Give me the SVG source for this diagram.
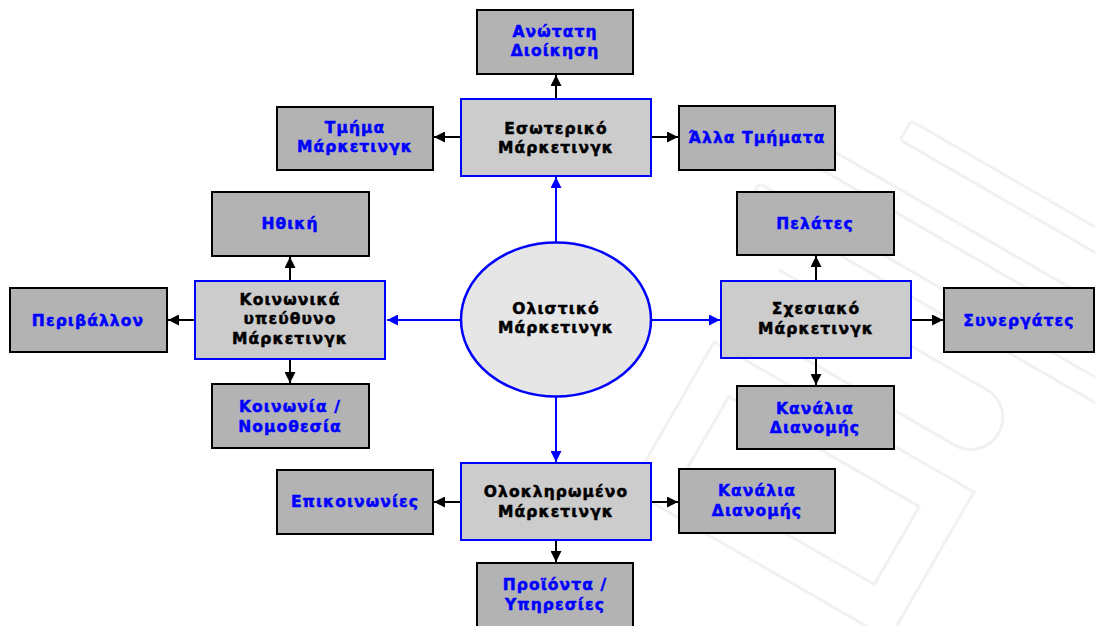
<svg xmlns="http://www.w3.org/2000/svg" width="1095" height="626" viewBox="0 0 1095 626">
  <defs>
    <style>
      .leaf { fill: #b3b3b3; stroke: #000; stroke-width: 2; }
      .hub { fill: #cccccc; stroke: #0000ff; stroke-width: 2; }
      .core { fill: #e6e6e6; stroke: #0000ff; stroke-width: 2.5; }
      text { font-family: "DejaVu Sans", Verdana, sans-serif; font-weight: bold; font-size: 15.5px; text-anchor: middle; letter-spacing: 1.1px; stroke-width: 0.5px; }
      .lt { fill: #0000ff; stroke: #0000ff; }
      .ht { fill: #000; stroke: #000; }
      .k { stroke: #000; stroke-width: 2; fill: none; marker-end: url(#ak); }
      .b { stroke: #0000ff; stroke-width: 2; fill: none; marker-end: url(#ab); }
      .wm { fill: none; stroke: #f1f1f1; stroke-width: 3; }
    </style>
    <marker id="ak" viewBox="0 0 10 10" refX="10" refY="5" markerWidth="5.5" markerHeight="5.5" orient="auto" markerUnits="strokeWidth">
      <path d="M0,0 L10,5 L0,10 z" fill="#000"/>
    </marker>
    <marker id="ab" viewBox="0 0 10 10" refX="10" refY="5" markerWidth="5.5" markerHeight="5.5" orient="auto" markerUnits="strokeWidth">
      <path d="M0,0 L10,5 L0,10 z" fill="#0000ff"/>
    </marker>
  </defs>

  <rect width="1095" height="626" fill="#fff"/>

  <!-- faint background logo -->
  <g id="watermark">
    <g transform="rotate(30 900 380)">
      <rect class="wm" x="780" y="150" width="300" height="22" rx="4"/>
      <rect class="wm" x="720" y="215" width="380" height="22" rx="4"/>
      <rect class="wm" x="680" y="280" width="420" height="22" rx="4"/>
      <path class="wm" d="M740 345 h240 a32 32 0 0 1 0 64 h-190"/>
      <path class="wm" d="M720 440 h300 v170 h-300 z"/>
      <path class="wm" d="M760 480 h220 v90 h-220 z"/>
    </g>
  </g>

  <g id="connectors">
    <!-- from the centre -->
    <line class="b" x1="556" y1="242" x2="556" y2="177"/>
    <line class="b" x1="556" y1="397" x2="556" y2="462"/>
    <line class="b" x1="461" y1="320" x2="387" y2="320"/>
    <line class="b" x1="651" y1="320" x2="720" y2="320"/>
    <!-- internal -->
    <line class="k" x1="556" y1="99" x2="556" y2="75"/>
    <line class="k" x1="461" y1="137" x2="434" y2="137"/>
    <line class="k" x1="651" y1="137" x2="678" y2="137"/>
    <!-- socially responsible -->
    <line class="k" x1="290" y1="281" x2="290" y2="257"/>
    <line class="k" x1="195" y1="320" x2="168" y2="320"/>
    <line class="k" x1="290" y1="359" x2="290" y2="383"/>
    <!-- relationship -->
    <line class="k" x1="816" y1="281" x2="816" y2="256"/>
    <line class="k" x1="911" y1="320" x2="943" y2="320"/>
    <line class="k" x1="816" y1="358" x2="816" y2="385"/>
    <!-- integrated -->
    <line class="k" x1="461" y1="502" x2="434" y2="502"/>
    <line class="k" x1="651" y1="502" x2="678" y2="502"/>
    <line class="k" x1="556" y1="540" x2="556" y2="562"/>
  </g>

  <g id="holistic">
    <ellipse class="core" cx="556" cy="319.5" rx="95" ry="77"/>
    <text class="ht" x="556" y="314">Ολιστικό</text>
    <text class="ht" x="556" y="333">Μάρκετινγκ</text>
  </g>

  <g id="internal">
    <rect class="hub" x="461" y="99" width="190" height="77"/>
    <text class="ht" x="556" y="134">Εσωτερικό</text>
    <text class="ht" x="556" y="153">Μάρκετινγκ</text>
  </g>
  <g id="top-management">
    <rect class="leaf" x="477" y="10" width="156" height="64"/>
    <text class="lt" x="555" y="37">Ανώτατη</text>
    <text class="lt" x="555" y="56">Διοίκηση</text>
  </g>
  <g id="marketing-dept">
    <rect class="leaf" x="277" y="107" width="156" height="63"/>
    <text class="lt" x="355" y="133">Τμήμα</text>
    <text class="lt" x="355" y="152">Μάρκετινγκ</text>
  </g>
  <g id="other-depts">
    <rect class="leaf" x="679" y="106" width="156" height="64"/>
    <text class="lt" x="757" y="143">Άλλα Τμήματα</text>
  </g>

  <g id="social">
    <rect class="hub" x="195" y="281" width="190" height="78"/>
    <text class="ht" x="290" y="305">Κοινωνικά</text>
    <text class="ht" x="290" y="324">υπεύθυνο</text>
    <text class="ht" x="290" y="344">Μάρκετινγκ</text>
  </g>
  <g id="ethics">
    <rect class="leaf" x="212" y="192" width="157" height="64"/>
    <text class="lt" x="290" y="229">Ηθική</text>
  </g>
  <g id="environment">
    <rect class="leaf" x="10" y="288" width="157" height="64"/>
    <text class="lt" x="88" y="326">Περιβάλλον</text>
  </g>
  <g id="society-law">
    <rect class="leaf" x="212" y="384" width="157" height="64"/>
    <text class="lt" x="290" y="412">Κοινωνία /</text>
    <text class="lt" x="290" y="432">Νομοθεσία</text>
  </g>

  <g id="relationship">
    <rect class="hub" x="721" y="281" width="190" height="77"/>
    <text class="ht" x="816" y="314">Σχεσιακό</text>
    <text class="ht" x="816" y="334">Μάρκετινγκ</text>
  </g>
  <g id="customers">
    <rect class="leaf" x="737" y="192" width="157" height="63"/>
    <text class="lt" x="815" y="229">Πελάτες</text>
  </g>
  <g id="partners">
    <rect class="leaf" x="944" y="288" width="150" height="64"/>
    <text class="lt" x="1019" y="326">Συνεργάτες</text>
  </g>
  <g id="channels-right">
    <rect class="leaf" x="737" y="386" width="157" height="63"/>
    <text class="lt" x="815" y="414">Κανάλια</text>
    <text class="lt" x="815" y="433">Διανομής</text>
  </g>

  <g id="integrated">
    <rect class="hub" x="461" y="463" width="190" height="77"/>
    <text class="ht" x="556" y="497">Ολοκληρωμένο</text>
    <text class="ht" x="556" y="517">Μάρκετινγκ</text>
  </g>
  <g id="communications">
    <rect class="leaf" x="277" y="470" width="156" height="64"/>
    <text class="lt" x="355" y="507">Επικοινωνίες</text>
  </g>
  <g id="channels-bottom">
    <rect class="leaf" x="679" y="469" width="156" height="64"/>
    <text class="lt" x="757" y="496">Κανάλια</text>
    <text class="lt" x="757" y="516">Διανομής</text>
  </g>
  <g id="products">
    <rect class="leaf" x="477" y="563" width="156" height="70"/>
    <text class="lt" x="555" y="590">Προϊόντα /</text>
    <text class="lt" x="555" y="610">Υπηρεσίες</text>
  </g>
</svg>
